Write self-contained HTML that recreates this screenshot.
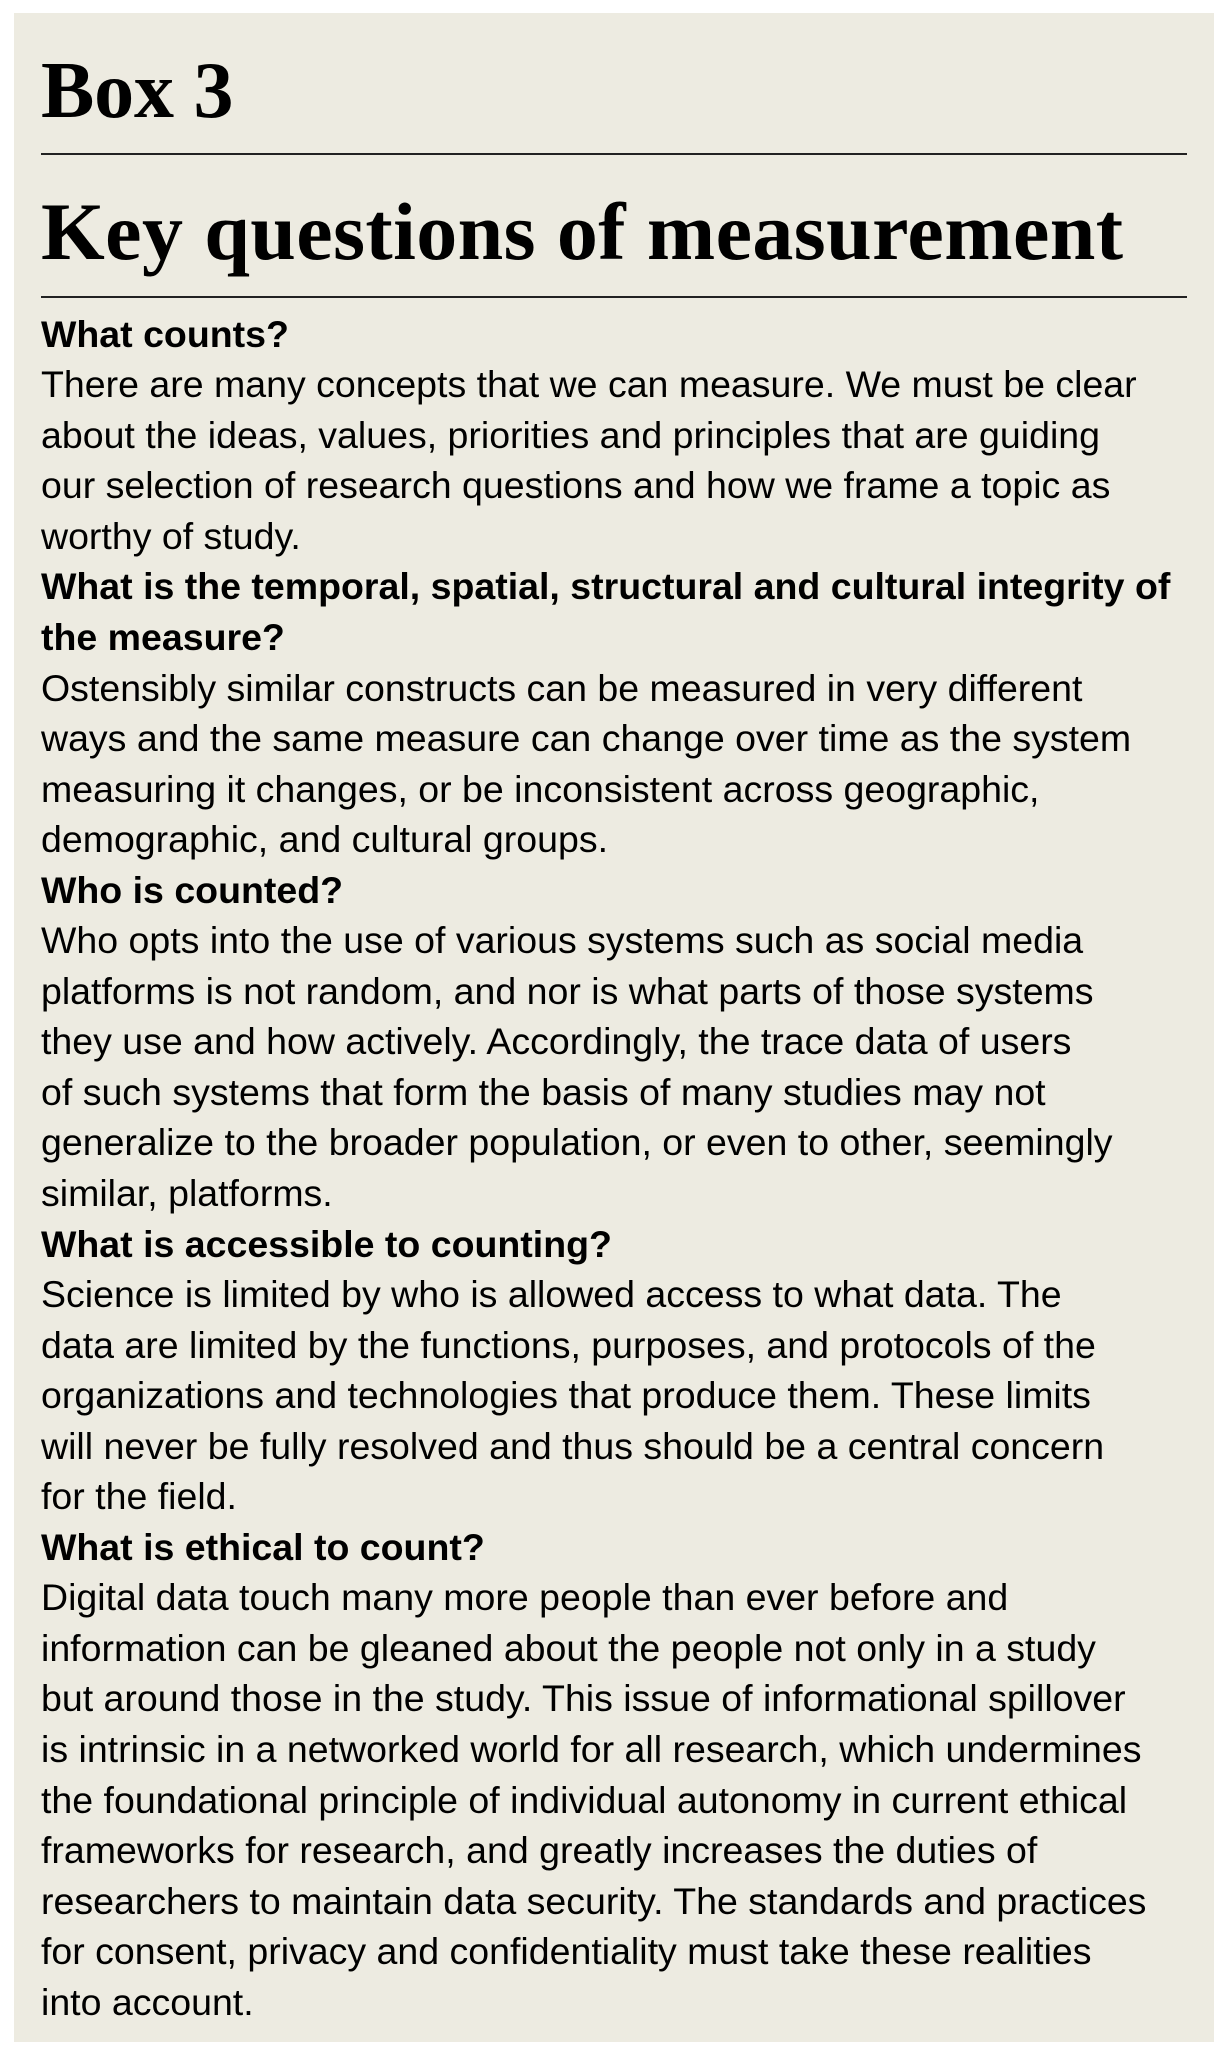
<!DOCTYPE html>
<html><head><meta charset="utf-8"><style>
html,body{margin:0;padding:0;background:#fff;width:1228px;height:2062px;overflow:hidden}
#box{position:absolute;left:14px;top:13px;width:1200px;height:2029px;background:#edebe1}
.t{position:absolute;left:41px;font-family:"Liberation Serif",serif;font-weight:bold;color:#000;line-height:1;white-space:nowrap}
.rule{position:absolute;left:41px;width:1146px;height:2px;background:#222}
#body{position:absolute;left:41px;top:308.7px;font-family:"Liberation Sans",sans-serif;font-size:37.5px;line-height:50.55px;color:#000;white-space:nowrap}
#body div{height:50.55px}
.h{font-weight:bold;letter-spacing:0px}
</style></head><body>
<div id="box"></div>
<div class="t" style="top:51px;font-size:80px;letter-spacing:-0.2px">Box 3</div>
<div class="rule" style="top:153px"></div>
<div class="t" style="top:191px;font-size:82px;letter-spacing:0.4px">Key questions of measurement</div>
<div class="rule" style="top:296px"></div>
<div id="body">
<div class="h">What counts?</div>
<div>There are many concepts that we can measure. We must be clear</div>
<div>about the ideas, values, priorities and principles that are guiding</div>
<div>our selection of research questions and how we frame a topic as</div>
<div>worthy of study.</div>
<div class="h">What is the temporal, spatial, structural and cultural integrity of</div>
<div class="h">the measure?</div>
<div>Ostensibly similar constructs can be measured in very different</div>
<div>ways and the same measure can change over time as the system</div>
<div>measuring it changes, or be inconsistent across geographic,</div>
<div>demographic, and cultural groups.</div>
<div class="h">Who is counted?</div>
<div>Who opts into the use of various systems such as social media</div>
<div>platforms is not random, and nor is what parts of those systems</div>
<div>they use and how actively. Accordingly, the trace data of users</div>
<div>of such systems that form the basis of many studies may not</div>
<div>generalize to the broader population, or even to other, seemingly</div>
<div>similar, platforms.</div>
<div class="h">What is accessible to counting?</div>
<div>Science is limited by who is allowed access to what data. The</div>
<div>data are limited by the functions, purposes, and protocols of the</div>
<div>organizations and technologies that produce them. These limits</div>
<div>will never be fully resolved and thus should be a central concern</div>
<div>for the field.</div>
<div class="h">What is ethical to count?</div>
<div>Digital data touch many more people than ever before and</div>
<div>information can be gleaned about the people not only in a study</div>
<div>but around those in the study. This issue of informational spillover</div>
<div>is intrinsic in a networked world for all research, which undermines</div>
<div>the foundational principle of individual autonomy in current ethical</div>
<div>frameworks for research, and greatly increases the duties of</div>
<div>researchers to maintain data security. The standards and practices</div>
<div>for consent, privacy and confidentiality must take these realities</div>
<div>into account.</div>
</div>
</body></html>
